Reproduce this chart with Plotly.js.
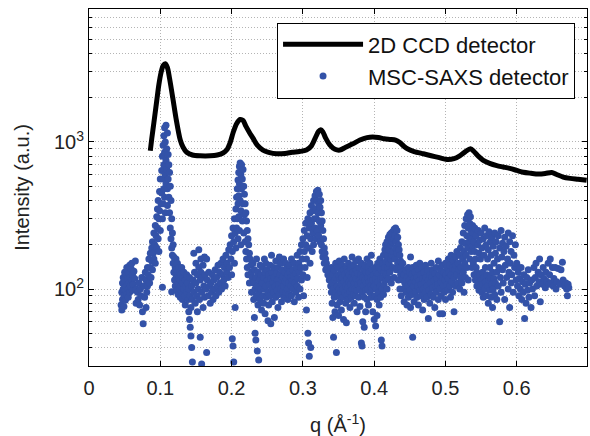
<!DOCTYPE html>
<html>
<head>
<meta charset="utf-8">
<script src="https://cdn.plot.ly/plotly-3.0.1.min.js"></script>
<style>html,body{margin:0;padding:0;background:#fff;}#chart{width:590px;height:436px;}</style>
</head>
<body>
<div id="chart"></div>
<script>
// 2D CCD detector curve (q in 1/Å, intensity a.u.)
const ccdQ = [0.086,0.088,0.091,0.095,0.098,0.101,0.104,0.107,0.110,0.113,0.118,0.122,0.128,0.132,0.137,0.145,0.156,0.170,0.180,0.188,0.193,0.198,0.202,0.207,0.212,0.216,0.220,0.225,0.230,0.236,0.244,0.252,0.263,0.275,0.285,0.295,0.305,0.312,0.318,0.322,0.325,0.328,0.332,0.338,0.345,0.352,0.360,0.370,0.380,0.390,0.398,0.406,0.414,0.422,0.430,0.436,0.442,0.448,0.456,0.469,0.480,0.490,0.502,0.512,0.520,0.528,0.535,0.540,0.546,0.553,0.562,0.572,0.581,0.590,0.600,0.609,0.620,0.630,0.640,0.649,0.656,0.665,0.675,0.686,0.698];
const ccdI = [870,1050,1350,1900,2450,2950,3300,3400,3200,2700,1920,1450,1030,920,850,815,805,805,815,840,880,990,1150,1330,1420,1400,1280,1160,1060,950,880,850,830,835,850,860,880,940,1080,1180,1210,1170,1060,950,890,880,920,970,1030,1070,1080,1070,1050,1040,1030,990,930,890,860,830,805,785,760,770,805,860,900,860,800,750,715,690,675,660,640,622,612,605,610,620,600,577,565,557,548];

// MSC-SAXS detector points [q, intensity]
const mscPoints = [
 [0.045,78],[0.046,95],[0.046,72],[0.047,110],[0.047,85],[0.048,100],[0.048,120],[0.049,90],[0.049,76],[0.050,115],[0.050,130],[0.051,98],[0.051,84],[0.052,125],[0.052,105],[0.053,140],[0.053,92],[0.054,118],[0.054,135],[0.055,100],[0.055,88],[0.056,128],[0.056,110],[0.057,145],[0.057,95],[0.058,120],[0.058,105],[0.059,138],[0.060,115],[0.060,150],[0.061,98],[0.061,125],[0.062,108],[0.063,132],[0.064,118],[0.065,155],[0.066,100],[0.066,80],
 [0.068,95],[0.069,85],[0.070,110],[0.071,78],[0.072,100],[0.073,90],[0.074,120],[0.075,70],[0.076,58],[0.077,105],[0.078,88],[0.079,130],[0.080,75],[0.080,115],[0.081,95],[0.082,140],[0.082,105],
 [0.083,125],[0.084,160],[0.085,110],[0.086,175],[0.086,140],[0.087,120],[0.088,190],[0.088,155],[0.089,210],[0.089,135],[0.090,175],[0.091,240],[0.091,160],[0.092,200],[0.093,270],[0.093,150],[0.094,230],[0.095,310],[0.095,190],[0.096,260],[0.096,350],[0.097,220],[0.097,400],[0.098,300],[0.098,180],[0.099,460],[0.099,340],[0.100,250],[0.100,560],[0.101,380],
 [0.102,640],[0.102,450],[0.103,800],[0.103,300],[0.103,103],[0.104,950],[0.104,560],[0.104,380],[0.105,1100],[0.105,700],[0.105,480],[0.106,1250],[0.106,850],[0.106,420],[0.107,1000],[0.107,600],[0.107,330],[0.108,1300],[0.108,750],[0.108,520],[0.109,900],[0.109,650],[0.110,1150],[0.110,480],[0.110,370],[0.111,820],[0.111,560],[0.112,700],[0.112,420],[0.113,620],[0.113,330],[0.114,500],[0.114,260],[0.115,400],[0.115,220],[0.116,300],[0.116,190],[0.116,96],[0.117,240],[0.117,170],[0.118,200],[0.118,150],
 [0.119,165],[0.119,130],[0.120,150],[0.120,115],[0.121,140],[0.121,105],[0.122,160],[0.122,125],[0.123,135],[0.123,98],[0.124,120],[0.124,150],[0.125,110],[0.125,92],[0.126,140],[0.126,118],[0.127,100],[0.127,130],[0.128,88],[0.128,115],[0.129,125],[0.129,105],[0.130,95],[0.130,140],[0.131,110],[0.131,85],[0.132,120],[0.133,100],[0.133,130],[0.134,90],[0.135,115],[0.135,78],[0.136,105],[0.137,125],[0.137,95],[0.138,110],[0.139,85],[0.140,100],[0.140,70],
 [0.141,120],[0.141,62],[0.142,90],[0.142,55],[0.143,75],[0.143,48],[0.144,105],[0.144,40],[0.145,32],[0.145,85],[0.146,115],[0.147,95],[0.147,175],[0.148,130],[0.149,80],[0.150,110],[0.150,150],[0.151,90],[0.152,125],[0.152,70],[0.153,100],[0.154,185],[0.154,140],[0.155,85],[0.156,115],[0.156,47],[0.157,130],[0.157,160],[0.158,95],[0.158,31],[0.159,120],[0.160,75],[0.160,145],[0.161,105],[0.162,165],[0.162,88],[0.163,125],[0.164,100],[0.165,37],[0.165,160],[0.166,115],[0.167,90],[0.168,130],[0.169,105],[0.170,80],
 [0.171,110],[0.172,95],[0.173,125],[0.174,85],[0.175,115],[0.176,100],[0.177,135],[0.178,90],[0.179,120],[0.180,105],[0.181,145],[0.182,95],[0.183,130],[0.184,110],[0.185,150],[0.186,100],[0.187,125],[0.188,160],[0.189,115],[0.190,140],[0.191,105],[0.192,170],[0.193,130],[0.194,150],[0.195,120],[0.196,185],[0.197,140],[0.198,200],[0.199,160],[0.200,230],[0.200,125],[0.201,180],[0.201,46],[0.202,260],[0.202,41],[0.203,210],[0.203,32],[0.204,300],[0.204,150],[0.205,240],[0.205,75],
 [0.206,350],[0.206,190],[0.207,420],[0.207,260],[0.208,300],[0.208,480],[0.209,380],[0.209,550],[0.209,220],[0.210,620],[0.210,430],[0.210,310],[0.211,520],[0.211,680],[0.211,250],[0.212,720],[0.212,400],[0.213,600],[0.213,340],[0.213,200],[0.214,700],[0.214,480],[0.215,560],[0.215,290],[0.216,650],[0.216,380],[0.217,500],[0.217,240],[0.218,440],[0.218,320],[0.219,380],[0.219,210],[0.220,330],[0.220,180],[0.221,290],[0.221,160],[0.222,250],[0.222,140],[0.223,220],[0.223,125],[0.224,200],[0.225,175],[0.225,110],[0.226,160],[0.227,145],[0.228,130],[0.228,95],[0.229,120],[0.230,150],
 [0.231,110],[0.231,85],[0.232,135],[0.232,64],[0.233,100],[0.233,50],[0.234,120],[0.234,45],[0.235,90],[0.235,160],[0.236,105],[0.236,38],[0.237,130],[0.237,78],[0.238,95],[0.238,33],[0.239,115],[0.240,145],[0.240,85],[0.241,100],[0.241,125],[0.242,72],[0.243,110],[0.243,140],[0.244,90],[0.245,120],[0.245,80],[0.246,160],[0.246,100],[0.247,130],[0.247,68],[0.248,105],[0.248,150],[0.249,88],[0.250,115],[0.250,135],[0.251,95],[0.251,61],[0.252,125],[0.252,78],[0.253,108],[0.254,145],[0.254,90],[0.255,118],[0.255,58],[0.256,100],[0.256,170],[0.257,130],[0.257,82],[0.258,112],[0.259,95],[0.259,140],[0.260,120],[0.260,64],[0.261,105],[0.262,155],[0.262,88],[0.263,128],[0.264,98],[0.264,115],[0.265,140],[0.265,75],[0.266,108],[0.267,165],[0.267,92],[0.268,125],[0.269,100],[0.269,150],[0.270,115],[0.270,82],[0.271,135],[0.272,96],[0.272,120],[0.273,160],[0.273,105],[0.274,88],[0.275,130],[0.275,112],[0.276,150],[0.276,95],[0.277,118],[0.278,140],[0.278,100],[0.279,125],[0.279,85],[0.280,110],[0.281,145],[0.281,92],[0.282,130],[0.283,105],[0.283,120],[0.284,160],[0.284,90],[0.285,115],[0.286,135],[0.286,100],[0.287,122],[0.288,82],[0.288,150],[0.289,110],[0.290,128],[0.290,95],[0.291,140],[0.292,105],[0.292,170],[0.293,118],[0.294,88],[0.294,150],[0.295,130],[0.296,100],[0.296,180],[0.297,140],[0.298,115],[0.298,200],[0.299,160],[0.300,125],
 [0.300,220],[0.301,90],[0.302,180],[0.302,250],[0.303,140],[0.304,200],[0.304,280],[0.305,160],[0.305,72],[0.306,230],[0.306,120],[0.307,300],[0.307,50],[0.308,190],[0.308,43],[0.309,260],[0.309,35],[0.310,330],[0.310,150],[0.311,220],[0.311,40],[0.312,370],[0.312,280],[0.313,180],[0.314,340],[0.314,240],[0.315,400],[0.315,200],[0.316,300],[0.317,430],[0.317,260],[0.318,350],[0.318,220],[0.319,460],[0.319,300],[0.320,400],[0.320,250],[0.321,470],[0.321,330],[0.322,380],[0.322,230],[0.323,440],[0.323,290],[0.324,360],[0.324,210],[0.325,400],[0.325,270],[0.326,330],[0.326,200],[0.327,290],[0.327,180],[0.328,250],[0.328,165],[0.329,220],[0.330,190],[0.330,150],[0.331,175],[0.332,160],[0.332,135],[0.333,150],[0.334,140],[0.335,125],[0.336,130],[0.337,115],[0.338,120],[0.339,105],[0.340,140],[0.340,95],
 [0.341,110],[0.341,80],[0.342,125],[0.342,64],[0.343,100],[0.343,47],[0.344,135],[0.344,88],[0.345,115],[0.345,70],[0.346,150],[0.346,95],[0.347,120],[0.347,37],[0.348,105],[0.348,78],[0.349,140],[0.349,90],[0.350,125],[0.350,66],[0.351,100],[0.351,155],[0.352,115],[0.352,82],[0.353,130],[0.353,95],[0.354,108],[0.354,72],[0.355,145],[0.355,120],[0.356,88],[0.356,100],[0.357,135],[0.357,62],[0.358,112],[0.358,160],[0.359,95],[0.359,125],[0.360,80],[0.360,105],[0.361,140],[0.361,59],[0.362,118],[0.362,90],[0.363,130],[0.363,102],[0.364,150],[0.364,85],[0.365,112],[0.365,125],[0.366,96],[0.366,75],[0.367,140],[0.367,108],[0.368,120],[0.368,88],[0.369,165],[0.369,100],[0.370,130],[0.370,115],[0.371,92],[0.371,145],[0.372,110],[0.372,80],[0.373,125],[0.373,100],[0.374,155],[0.374,90],[0.375,118],[0.375,135],[0.376,98],[0.376,70],[0.377,128],[0.377,108],[0.378,160],[0.378,88],[0.379,115],[0.379,140],[0.380,100],[0.380,76],[0.381,125],[0.381,110],[0.382,150],[0.382,43],[0.383,95],[0.383,41],[0.384,120],[0.384,60],[0.385,105],[0.385,135],[0.386,88],[0.386,55],[0.387,115],[0.387,145],[0.388,98],[0.388,70],[0.389,130],[0.389,110],[0.390,160],[0.390,85],[0.391,120],[0.391,100],[0.392,140],[0.392,78],[0.393,112],[0.393,130],[0.394,95],[0.394,150],[0.395,120],[0.395,105],[0.396,88],[0.396,170],[0.397,135],[0.397,100],
 [0.398,115],[0.398,70],[0.399,125],[0.400,105],[0.400,62],[0.401,140],[0.401,90],[0.402,118],[0.402,56],[0.403,100],[0.403,130],[0.404,85],[0.404,66],[0.405,150],[0.405,112],[0.406,95],[0.406,128],[0.407,78],[0.407,140],[0.408,105],[0.408,160],[0.409,118],[0.409,88],[0.410,135],[0.410,45],[0.411,100],[0.411,41],[0.412,150],[0.412,120],[0.413,92],[0.413,170],[0.414,130],[0.414,108],[0.415,185],[0.415,140],[0.416,115],[0.416,200],[0.417,155],[0.417,125],[0.418,210],[0.418,100],[0.419,170],[0.419,140],[0.420,225],[0.420,118],[0.421,185],[0.421,150],[0.422,235],[0.422,130],[0.423,200],[0.423,160],[0.424,240],[0.424,110],[0.425,210],[0.425,170],[0.426,245],[0.426,140],[0.427,220],[0.427,180],[0.428,255],[0.428,120],[0.429,230],[0.429,160],[0.430,260],[0.430,190],[0.431,210],[0.431,135],[0.432,250],[0.432,175],[0.433,225],[0.433,150],[0.434,200],[0.434,115],[0.435,185],[0.435,140],[0.436,170],[0.436,100],[0.437,155],[0.437,125],[0.438,140],[0.438,90],[0.439,130],[0.440,115],[0.440,150],[0.441,100],[0.442,125],[0.442,82],[0.443,110],[0.444,135],[0.445,95],
 [0.446,120],[0.446,78],[0.447,105],[0.448,140],[0.448,88],[0.449,115],[0.450,98],[0.450,130],[0.451,165],[0.451,75],[0.452,110],[0.453,125],[0.453,92],[0.454,47],[0.454,140],[0.455,105],[0.456,118],[0.456,82],[0.457,130],[0.458,96],[0.458,112],[0.459,145],[0.460,88],[0.460,120],[0.461,105],[0.462,135],[0.462,78],[0.463,115],[0.464,98],[0.464,150],[0.465,125],[0.466,90],[0.466,108],[0.467,140],[0.468,118],[0.468,72],[0.469,100],[0.470,130],[0.470,85],[0.471,112],[0.472,145],[0.472,95],[0.473,120],[0.474,105],[0.474,88],[0.475,135],[0.476,115],[0.476,63],[0.477,98],[0.478,125],[0.478,80],[0.479,110],[0.480,150],[0.480,92],[0.481,120],[0.482,102],[0.482,135],[0.483,88],[0.484,115],[0.485,128],[0.485,75],[0.486,105],[0.487,140],[0.487,95],[0.488,118],[0.489,108],[0.490,155],[0.490,85],[0.491,125],[0.492,100],[0.492,68],[0.493,135],[0.494,112],[0.494,90],[0.495,145],[0.496,120],[0.496,68],[0.497,105],[0.498,130],[0.498,95],[0.499,115],[0.500,150],[0.500,85],[0.501,125],[0.502,108],[0.502,140],[0.503,98],[0.504,160],[0.504,118],[0.505,130],[0.506,105],[0.506,145],[0.507,88],[0.508,125],[0.508,170],[0.509,112],[0.510,140],[0.510,95],[0.511,155],[0.512,120],[0.512,70],[0.513,135],[0.514,165],[0.514,105],[0.515,145],[0.516,125],[0.516,180],[0.517,110],[0.518,150],[0.519,135],[0.520,170],[0.520,100],
 [0.521,190],[0.521,120],[0.522,140],[0.523,210],[0.523,110],[0.524,160],[0.525,240],[0.525,130],[0.526,180],[0.526,95],[0.527,270],[0.527,150],[0.528,205],[0.528,120],[0.529,300],[0.529,170],[0.530,230],[0.530,140],[0.531,320],[0.531,190],[0.532,260],[0.532,115],[0.533,330],[0.533,210],[0.534,280],[0.534,160],[0.535,310],[0.535,230],[0.536,250],[0.536,180],[0.537,220],[0.537,140],[0.538,270],[0.538,195],[0.539,240],[0.539,150],[0.540,210],[0.540,125],[0.541,180],[0.541,260],[0.542,160],[0.542,115],[0.543,140],[0.543,230],[0.544,130],[0.544,105],[0.545,200],[0.545,120],[0.546,250],[0.546,110],[0.547,175],[0.547,98],[0.548,215],[0.548,125],[0.549,105],[0.549,160],[0.550,240],[0.550,115],[0.551,190],[0.551,95],[0.552,130],[0.552,108],[0.553,220],[0.553,88],[0.554,170],[0.554,120],[0.555,260],[0.555,100],[0.556,140],[0.556,112],[0.557,200],[0.557,90],[0.558,230],[0.558,125],[0.559,105],[0.559,160],[0.560,185],[0.560,80],[0.561,245],[0.561,115],[0.562,140],[0.562,98],[0.563,210],[0.563,120],[0.564,170],[0.564,88],[0.565,225],[0.565,108],[0.566,130],[0.566,75],[0.567,195],[0.567,100],[0.568,150],[0.568,118],[0.569,240],[0.569,92],[0.570,175],[0.570,110],[0.571,210],[0.572,130],[0.572,85],[0.573,160],[0.574,230],[0.574,105],[0.575,140],[0.576,190],[0.576,60],[0.577,120],[0.578,250],[0.578,95],[0.579,165],[0.580,135],[0.580,205],[0.581,110],[0.582,180],[0.583,225],[0.583,85],[0.584,145],[0.585,195],[0.586,120],[0.587,160],[0.588,240],[0.588,100],[0.589,130],[0.590,210],[0.590,75],[0.591,150],[0.592,180],[0.592,110],[0.593,125],[0.594,230],[0.595,95],[0.596,170],[0.597,140],[0.598,200],[0.599,115],[0.600,150],
 [0.601,105],[0.602,130],[0.603,90],[0.604,118],[0.605,100],[0.606,140],[0.607,85],[0.608,112],[0.609,95],[0.610,125],[0.611,63],[0.612,108],[0.613,80],[0.614,120],[0.615,98],[0.616,135],[0.617,88],[0.618,110],[0.620,75],[0.621,115],[0.622,100],[0.624,140],[0.625,90],[0.626,120],[0.627,150],[0.628,105],[0.630,130],[0.631,112],[0.632,160],[0.633,82],[0.634,125],[0.636,108],[0.637,140],[0.638,118],[0.640,102],[0.641,130],[0.642,113],[0.644,150],[0.645,108],[0.646,125],[0.647,160],[0.648,110],[0.650,140],[0.651,105],[0.652,118],[0.654,140],[0.655,100],[0.656,112],[0.658,138],[0.660,108],[0.662,135],[0.664,152],[0.665,115],[0.667,105],[0.669,110],[0.670,100],[0.671,90],[0.672,108],[0.673,102]
];

const xTickVals = [0, 0.1, 0.2, 0.3, 0.4, 0.5, 0.6];
const xTickText = ['0', '0.1', '0.2', '0.3', '0.4', '0.5', '0.6'];
const yTickVals = [100, 1000];
const yTickText = ['10<sup>2</sup>', '10<sup>3</sup>'];
const yMinorVals = [30,40,50,60,70,80,90,200,300,400,500,600,700,800,900,2000,3000,4000,5000,6000,7000,8000];

const FONT = 'Liberation Sans, Arial, sans-serif';
const mscQ = mscPoints.map(p => p[0]);
const mscI = mscPoints.map(p => p[1]);

const traces = [
  {
    x: ccdQ, y: ccdI, type: 'scatter', mode: 'lines', name: '2D CCD detector',
    line: {color: '#000000', width: 5, shape: 'spline', smoothing: 0.8}
  },
  {
    x: mscQ, y: mscI, type: 'scatter', mode: 'markers', name: 'MSC-SAXS detector',
    marker: {color: '#3352a8', size: 7}
  }
];

const GRID = '#b4b4b4';
const layout = {
  width: 590, height: 436,
  margin: {l: 89, r: 3, t: 9, b: 70},
  paper_bgcolor: '#ffffff', plot_bgcolor: '#ffffff',
  font: {family: FONT, size: 20, color: '#222222'},
  showlegend: true,
  legend: {
    x: 0.976, y: 0.962, xanchor: 'right', yanchor: 'top',
    bgcolor: '#ffffff', bordercolor: '#000000', borderwidth: 1,
    font: {family: FONT, size: 22, color: '#111111'},
    itemwidth: 80, tracegroupgap: 0
  },
  xaxis: {
    range: [0, 0.6985], tickmode: 'array', tickvals: xTickVals, ticktext: xTickText,
    ticks: 'inside', ticklen: 5, tickcolor: '#000', showline: true, linecolor: '#000', linewidth: 1,
    mirror: 'ticks', showgrid: true, gridcolor: GRID, griddash: '1px,2px', gridwidth: 1,
    zeroline: false, tickfont: {family: FONT, size: 20, color: '#222'}, ticklabelstandoff: 4,
    title: {text: 'q (Å<sup>-1</sup>)', font: {family: FONT, size: 20, color: '#222'}, standoff: 22}
  },
  yaxis: {
    type: 'log', range: [Math.log10(30), Math.log10(8000)],
    tickmode: 'array', tickvals: yTickVals, ticktext: yTickText,
    ticks: 'inside', ticklen: 5, tickcolor: '#000', showline: true, linecolor: '#000', linewidth: 1,
    mirror: 'ticks', showgrid: true, gridcolor: GRID, griddash: '1px,2px', gridwidth: 1,
    zeroline: false, tickfont: {family: FONT, size: 20, color: '#222'},
    minor: {tickmode: 'array', tickvals: yMinorVals, ticks: 'inside', ticklen: 3, tickcolor: '#000',
            showgrid: true, gridcolor: GRID, griddash: '1px,2px', gridwidth: 1},
    title: {text: 'Intensity (a.u.)', font: {family: FONT, size: 20, color: '#222'}, standoff: 18}
  }
};

Plotly.newPlot('chart', traces, layout, {displayModeBar: false, staticPlot: true});
</script>
</body>
</html>
